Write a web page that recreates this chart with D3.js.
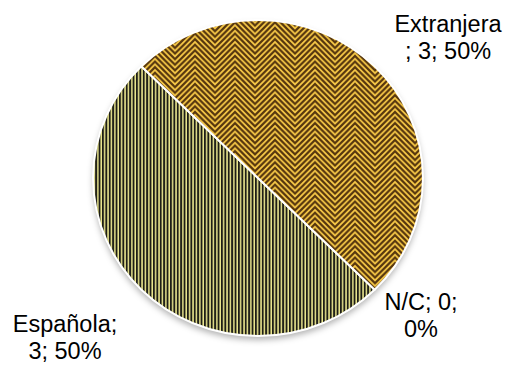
<!DOCTYPE html>
<html><head><meta charset="utf-8">
<script src="https://cdn.jsdelivr.net/npm/d3@7"></script>
<style>html,body{margin:0;padding:0;background:#fff}svg{display:block}</style>
</head><body>
<svg id="chart" width="511" height="366"></svg>
<script>
const categories = ["Española", "Extranjera", "N/C"];
const values = [3, 3, 0];
const percents = ["50%", "50%", "0%"];

const W = 511, H = 366;
const cx = 258, cy = 178, rx = 165, ry = 158;
const svg = d3.select("#chart");
const defs = svg.append("defs");

// vertical stripe pattern
const ps = defs.append("pattern").attr("id", "pStripe").attr("patternUnits", "userSpaceOnUse")
  .attr("width", 3.4).attr("height", 10);
ps.append("rect").attr("width", 3.4).attr("height", 10).attr("fill", "#ece890");
ps.append("rect").attr("x", 0).attr("width", 1.9).attr("height", 10).attr("fill", "#1d1d16");

// chevron pattern
const a = 20, p = 5.6;
const pc = defs.append("pattern").attr("id", "pChev").attr("patternUnits", "userSpaceOnUse")
  .attr("width", 2 * a).attr("height", p).attr("x", 15).attr("y", 0);
pc.append("rect").attr("width", 2 * a).attr("height", p).attr("fill", "#f6c846");
for (let k = -Math.ceil(a / p) - 1; k <= 2; k++) {
  pc.append("path")
    .attr("d", `M${-1},${a + 1 + k * p} L${a},${k * p} L${2 * a + 1},${a + 1 + k * p}`)
    .attr("fill", "none").attr("stroke", "#56360e").attr("stroke-width", 2.2);
}

const flt = defs.append("filter").attr("id", "shadow").attr("x", "-20%").attr("y", "-20%").attr("width", "140%").attr("height", "140%");
flt.append("feDropShadow").attr("dx", 0).attr("dy", 4).attr("stdDeviation", 3)
  .attr("flood-color", "#000").attr("flood-opacity", 0.3);

const fills = ["url(#pStripe)", "url(#pChev)", "#999"];

const pie = d3.pie().sort(null).value(d => d)
  .startAngle(135 * Math.PI / 180).endAngle(495 * Math.PI / 180);
const arcs = pie(values);

function pt(ang) { return [cx + rx * Math.sin(ang), cy - ry * Math.cos(ang)]; }
function slicePath(d) {
  if (d.endAngle - d.startAngle <= 0) return "";
  const s = pt(d.startAngle), e = pt(d.endAngle);
  const large = (d.endAngle - d.startAngle) > Math.PI ? 1 : 0;
  return `M${cx},${cy}L${s[0]},${s[1]}A${rx},${ry} 0 ${large} 1 ${e[0]},${e[1]}Z`;
}

const g = svg.append("g");
g.append("ellipse").attr("cx", cx).attr("cy", cy).attr("rx", rx).attr("ry", ry)
  .attr("fill", "#fff").attr("filter", "url(#shadow)");
g.selectAll("path.slice").data(arcs).join("path").attr("class", "slice")
  .attr("d", slicePath).attr("fill", (d, i) => fills[i])
  .attr("stroke", "#fff").attr("stroke-width", 2).attr("stroke-linejoin", "round");

// labels
const labelPos = [
  { x: 65, y: 332, lines: [categories[0] + ";", values[0] + "; " + percents[0]] },
  { x: 448, y: 32, lines: [categories[1], "; " + values[1] + "; " + percents[1]] },
  { x: 421, y: 310, lines: [categories[2] + "; " + values[2] + ";", percents[2]] }
];
const lt = svg.append("g").attr("font-family", "Liberation Sans, Arial, sans-serif")
  .attr("font-size", 23.5).attr("fill", "#000").attr("text-anchor", "middle");
labelPos.forEach(l => {
  const t = lt.append("text").attr("x", l.x).attr("y", l.y);
  l.lines.forEach((s, i) => t.append("tspan").attr("x", l.x).attr("dy", i === 0 ? 0 : 26.5).text(s));
});
</script>
</body></html>
